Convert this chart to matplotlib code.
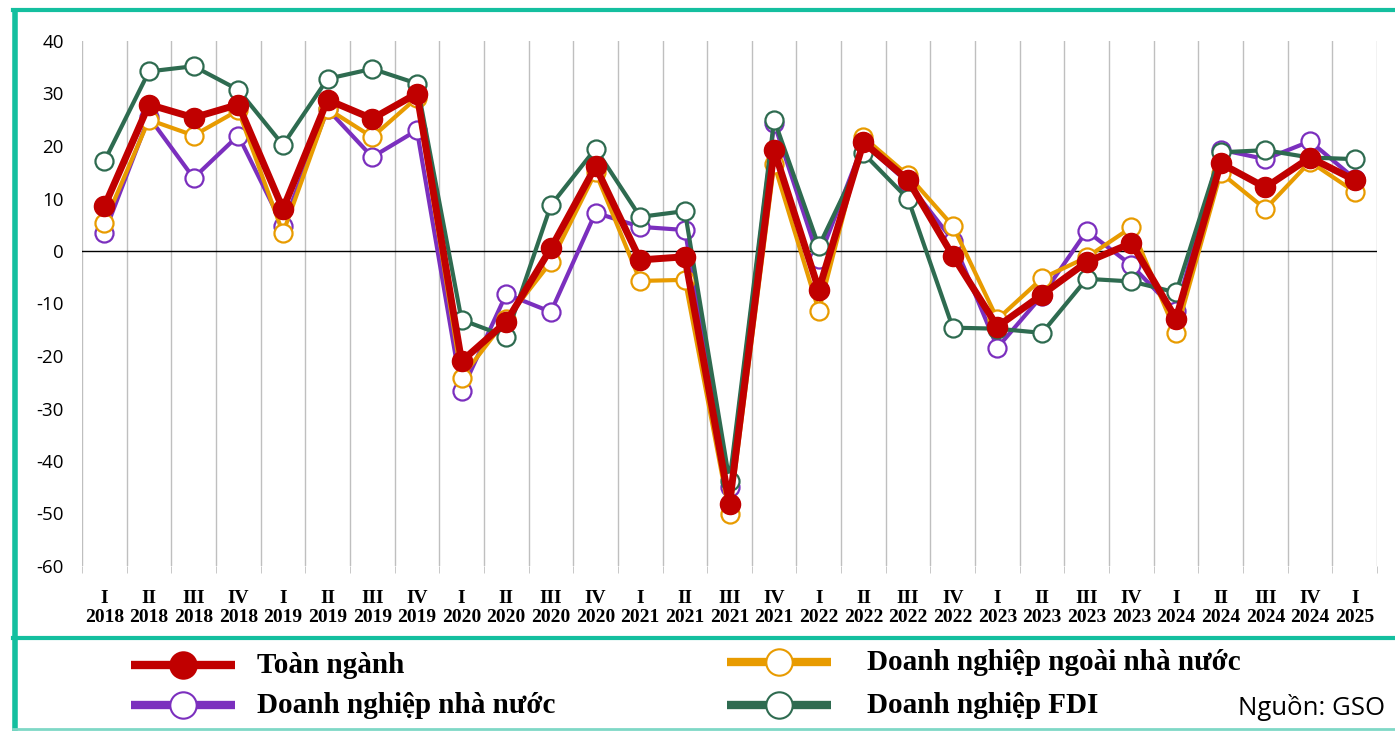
import numpy as np
import matplotlib.pyplot as plt

# Du lieu theo quy (I/2018 - I/2025)
quy = ['I', 'II', 'III', 'IV', 'I', 'II', 'III', 'IV', 'I', 'II', 'III', 'IV', 'I', 'II', 'III',
       'IV', 'I', 'II', 'III', 'IV', 'I', 'II', 'III', 'IV', 'I', 'II', 'III', 'IV', 'I']
nam = ['2018'] * 4 + ['2019'] * 4 + ['2020'] * 4 + ['2021'] * 4 + ['2022'] * 4 + \
      ['2023'] * 4 + ['2024'] * 4 + ['2025']

toan_nganh = [8.5, 27.9, 25.4, 27.9, 8.0, 28.8, 25.2, 30.0, -21.0, -13.5, 0.5, 16.1, -1.7, -1.1, -48.2,
              19.2, -7.4, 20.7, 13.5, -0.9, -14.4, -8.3, -2.1, 1.5, -12.9, 16.7, 12.1, 17.8, 13.5]
nha_nuoc = [3.4, 25.5, 13.9, 22.0, 4.8, 27.0, 17.9, 23.0, -26.7, -8.2, -11.6, 7.3, 4.6, 4.0, -45.0,
            24.3, -1.5, 20.5, 13.0, 2.0, -18.4, -8.5, 3.8, -2.7, -11.5, 19.3, 17.5, 20.9, 13.8]
ngoai_nha_nuoc = [5.3, 25.0, 22.0, 26.8, 3.4, 27.1, 21.7, 29.2, -24.1, -13.0, -2.1, 15.0, -5.7, -5.5, -50.1,
                  16.5, -11.4, 21.7, 14.4, 4.8, -13.0, -5.2, -1.2, 4.5, -15.6, 14.9, 8.0, 17.0, 11.3]
fdi = [17.1, 34.2, 35.2, 30.7, 20.2, 32.8, 34.7, 31.9, -13.1, -16.3, 8.7, 19.5, 6.5, 7.6, -43.8,
       25.0, 0.9, 18.6, 9.9, -14.6, -14.8, -15.6, -5.3, -5.8, -7.9, 18.8, 19.2, 17.8, 17.5]

RED = '#C00000'
PURPLE = '#7B2FBE'
ORANGE = '#E89B00'
GREEN = '#2E6B50'
TEAL = '#14BF9F'

W, H = 1395, 731
fig = plt.figure(figsize=(W / 100, H / 100), dpi=100)
ax = fig.add_axes([82 / W, 1 - 566 / H, (1377 - 82) / W, (566 - 41) / H])

x = np.arange(len(toan_nganh))

ax.plot(x, nha_nuoc, color=PURPLE, lw=3, marker='o', ms=13, mfc='white', mec=PURPLE, mew=1.6, zorder=3)
ax.plot(x, ngoai_nha_nuoc, color=ORANGE, lw=3, marker='o', ms=13, mfc='white', mec=ORANGE, mew=1.6, zorder=4)
ax.plot(x, fdi, color=GREEN, lw=3, marker='o', ms=13, mfc='white', mec=GREEN, mew=1.6, zorder=5)
ax.plot(x, toan_nganh, color=RED, lw=5, marker='o', ms=14.5, mfc=RED, mec=RED, zorder=6)

ax.axhline(0, color='black', lw=1, zorder=2)
ax.set_xlim(-0.5, len(x) - 0.5)
ax.set_ylim(-60, 40)
ax.set_yticks(range(-60, 41, 10))
ax.set_yticklabels([str(v) for v in range(-60, 41, 10)], fontsize=13.5, family='Open Sans')
ax.tick_params(axis='y', length=0, pad=13)

ax.set_xticks(x)
ax.set_xticklabels([q + '\n' + n for q, n in zip(quy, nam)], fontsize=14,
                   family='Liberation Serif', fontweight='bold', linespacing=1.15)
ax.set_xticks(np.arange(-0.5, len(x)), minor=True)
ax.tick_params(axis='x', which='major', length=0, pad=17)
ax.tick_params(axis='x', which='minor', length=5, color='#BFBFBF')
ax.grid(axis='x', which='minor', color='#BFBFBF', lw=1)
for s in ax.spines.values():
    s.set_visible(False)

# khung va chu thich
ov = fig.add_axes([0, 0, 1, 1])
ov.set_xlim(0, W)
ov.set_ylim(H, 0)
ov.axis('off')
ov.plot([15, 15], [8, H], color=TEAL, lw=4, solid_capstyle='butt')
ov.plot([13, W], [10, 10], color=TEAL, lw=3)
ov.plot([13, W], [638, 638], color=TEAL, lw=3)
ov.plot([13, W], [729, 729], color='#7FD8C6', lw=2)

def mau_chu_thich(x0, y0, xt, mau, dac, ten):
    ov.plot([x0, x0 + 104], [y0, y0], color=mau, lw=6, solid_capstyle='butt')
    ov.plot([x0 + 52], [y0], marker='o', ms=19, mfc=mau if dac else 'white', mec=mau, mew=1.5)
    ov.text(xt, y0 + 8, ten, fontsize=21, family='Liberation Serif', fontweight='bold',
            va='baseline', ha='left')

mau_chu_thich(131, 665, 257, RED, True, 'Toàn ngành')
mau_chu_thich(131, 705, 257, PURPLE, False, 'Doanh nghiệp nhà nước')
mau_chu_thich(727, 662, 867, ORANGE, False, 'Doanh nghiệp ngoài nhà nước')
mau_chu_thich(727, 705, 867, GREEN, False, 'Doanh nghiệp FDI')
ov.text(1385, 715, 'Nguồn: GSO', fontsize=18.5, family='Open Sans', ha='right', va='baseline')

fig.savefig('out.png', dpi=100)
